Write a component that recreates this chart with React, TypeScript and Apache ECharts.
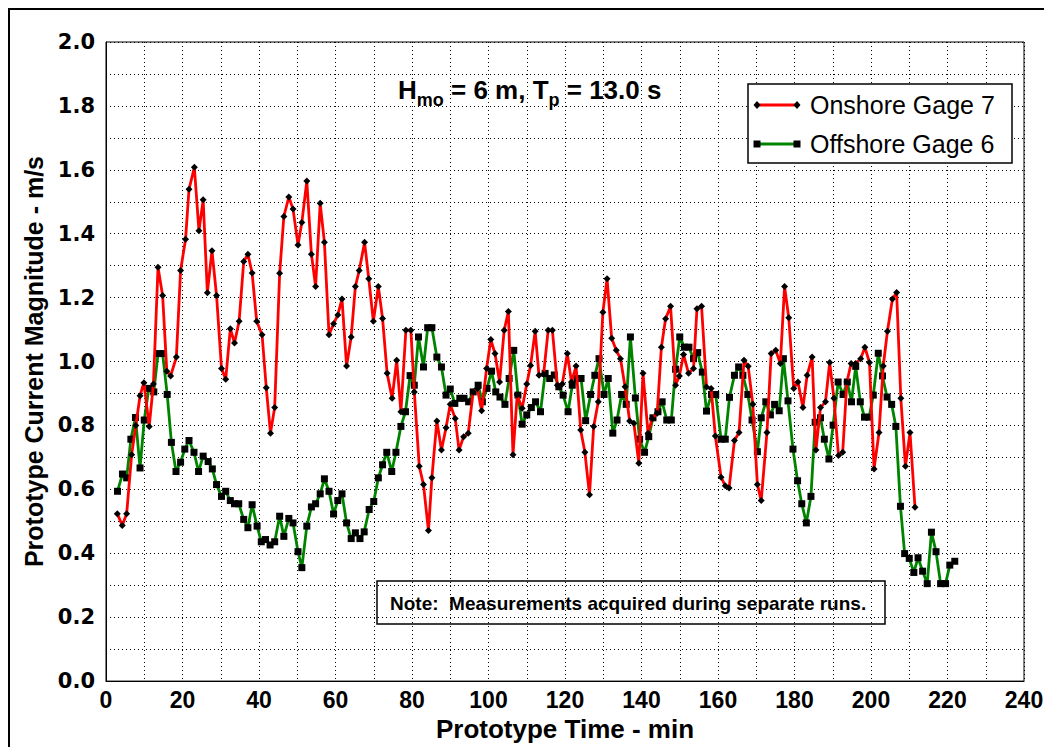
import React, { useEffect, useRef } from "react";
import * as echarts from "echarts";

// Onshore Gage 7 (red) - time (min) and current magnitude (m/s)
const onshoreTime = [
  2.95, 4.25, 5.4, 6.7, 7.8, 8.9, 9.9, 11.3, 12.4, 13.6, 14.8, 15.9, 16.9, 18.4, 19.5, 20.8, 21.7, 23.1, 24.3, 25.4,
  26.5, 27.7, 28.9, 30.2, 31.3, 32.5, 33.6, 34.8, 36.0, 37.1, 38.2, 39.4, 40.8, 41.9, 43.0, 44.1, 45.4, 46.5, 47.8, 48.9,
  50.2, 51.2, 52.5, 53.7, 54.8, 56.0, 57.1, 58.3, 59.5, 60.6, 61.7, 62.9, 64.1, 65.2, 66.2, 67.6, 68.7, 69.9, 71.2, 72.3,
  73.5, 74.8, 76.0, 77.1, 78.4, 79.7, 80.6, 81.9, 83.0, 84.3, 85.2, 86.5, 87.7, 88.9, 90.0, 91.3, 92.3, 93.5, 94.7, 96.0,
  97.1, 98.2, 99.5, 100.6, 101.7, 102.9, 104.1, 105.2, 106.4, 107.5, 108.8, 110.0, 111.0, 112.2, 113.2, 114.4, 115.6, 116.7, 118.0, 119.3,
  120.6, 121.7, 122.9, 124.1, 125.2, 126.4, 127.5, 128.7, 129.9, 131.0, 132.2, 133.4, 134.5, 135.7, 136.9, 138.0, 139.3, 140.4, 141.7, 142.8,
  144.1, 145.2, 146.3, 147.6, 148.9, 149.9, 151.0, 152.3, 153.6, 154.5, 155.7, 157.0, 158.2, 159.3, 160.8, 161.9, 162.9, 164.3, 165.5, 166.8,
  167.9, 169.1, 170.3, 171.3, 172.8, 173.9, 175.1, 176.3, 177.4, 178.5, 179.8, 180.9, 182.2, 183.3, 184.6, 185.6, 186.8, 188.1, 189.2, 190.3,
  191.5, 192.6, 193.7, 194.8, 196.0, 197.3, 198.4, 199.6, 200.8, 202.1, 203.2, 204.3, 205.6, 206.7, 207.8, 209.0, 210.2, 211.5,
];
const onshoreValue = [
  0.524, 0.487, 0.524, 0.708, 0.8, 0.893, 0.934, 0.797, 0.93, 1.295, 1.207, 0.97, 0.955, 1.014, 1.285, 1.383, 1.539, 1.608, 1.409, 1.506,
  1.215, 1.347, 1.207, 0.978, 0.945, 1.103, 1.058, 1.126, 1.313, 1.336, 1.277, 1.126, 1.084, 0.918, 0.776, 0.856, 1.276, 1.454, 1.515, 1.477,
  1.365, 1.435, 1.565, 1.336, 1.235, 1.495, 1.373, 1.084, 1.118, 1.146, 1.196, 0.986, 1.077, 1.235, 1.285, 1.373, 1.259, 1.126, 1.235, 1.135,
  0.963, 0.885, 1.004, 0.843, 1.098, 1.098, 0.905, 0.672, 0.615, 0.471, 0.636, 0.814, 0.723, 0.793, 0.866, 0.822, 0.723, 0.765, 0.776, 0.905,
  0.916, 0.846, 0.978, 1.069, 1.025, 0.936, 1.098, 1.157, 0.708, 0.895, 0.854, 0.93, 0.988, 1.095, 0.957, 0.96, 1.098, 1.098, 0.926, 0.93,
  1.025, 0.936, 0.986, 0.786, 0.716, 0.583, 0.797, 0.874, 1.154, 1.259, 1.073, 1.035, 1.009, 0.921, 0.814, 0.807, 0.682, 0.963, 0.776, 0.822,
  0.838, 1.045, 1.134, 1.173, 0.926, 0.955, 1.022, 0.963, 0.978, 1.165, 1.173, 0.92, 0.916, 0.767, 0.638, 0.611, 0.604, 0.753, 0.778, 1.004,
  0.985, 0.866, 0.615, 0.565, 0.778, 1.025, 1.035, 0.994, 1.235, 1.137, 0.916, 0.936, 0.856, 0.957, 1.014, 0.723, 0.856, 0.874, 0.997, 0.885,
  0.706, 0.716, 0.936, 0.994, 0.994, 1.009, 1.045, 0.997, 0.664, 0.778, 0.986, 1.095, 1.196, 1.216, 0.885, 0.672, 0.778, 0.544,
];

// Offshore Gage 6 (green)
const offshoreTime = [
  3.0, 4.3, 5.4, 6.5, 7.7, 8.9, 10.0, 11.2, 12.5, 13.6, 14.8, 16.0, 17.1, 18.3, 19.5, 20.6, 21.7, 23.0, 24.2, 25.4,
  26.7, 27.8, 28.9, 30.2, 31.3, 32.5, 33.6, 34.7, 36.0, 37.1, 38.2, 39.5, 40.6, 41.7, 42.9, 44.1, 45.4, 46.5, 47.8, 48.9,
  50.2, 51.2, 52.5, 53.7, 54.8, 56.0, 57.1, 58.3, 59.5, 60.6, 61.7, 62.9, 64.1, 65.2, 66.4, 67.5, 68.8, 70.0, 71.2, 72.3,
  73.4, 74.7, 75.8, 77.1, 78.3, 79.5, 80.6, 81.7, 83.0, 84.1, 85.2, 86.5, 87.7, 88.9, 90.0, 91.2, 92.5, 93.6, 94.8, 96.0,
  97.3, 98.4, 99.6, 100.8, 101.9, 103.0, 104.3, 105.4, 106.6, 107.7, 108.8, 110.0, 111.2, 112.3, 113.6, 114.8, 116.0, 117.2, 118.4, 119.5,
  120.8, 121.9, 123.2, 124.2, 125.4, 126.7, 127.8, 128.9, 130.2, 131.3, 132.5, 133.6, 134.8, 136.0, 137.1, 138.4, 139.5, 140.8, 141.9, 143.0,
  144.3, 145.4, 146.6, 147.8, 148.9, 150.0, 151.2, 152.4, 153.6, 154.7, 155.9, 157.0, 158.3, 159.4, 160.8, 161.9, 163.0, 164.3, 165.4, 166.5,
  167.8, 168.9, 170.3, 171.3, 172.5, 173.7, 174.8, 176.0, 177.1, 178.3, 179.6, 180.8, 181.9, 183.1, 184.3, 185.4, 186.8, 187.8, 189.0, 190.1,
  191.4, 192.7, 193.8, 194.9, 196.0, 197.2, 198.3, 199.5, 200.6, 201.9, 203.0, 204.2, 205.4, 206.5, 207.7, 208.8, 210.0, 211.2, 212.3, 213.5,
  214.7, 215.8, 217.0, 218.2, 219.5, 220.6, 221.9,
];
const offshoreValue = [
  0.594, 0.648, 0.636, 0.757, 0.825, 0.667, 0.817, 0.916, 0.905, 1.025, 1.025, 0.897, 0.747, 0.656, 0.685, 0.726, 0.753, 0.716, 0.656, 0.704,
  0.687, 0.664, 0.615, 0.578, 0.594, 0.565, 0.555, 0.555, 0.506, 0.48, 0.552, 0.485, 0.436, 0.443, 0.426, 0.436, 0.516, 0.453, 0.509, 0.495,
  0.405, 0.355, 0.485, 0.545, 0.555, 0.586, 0.633, 0.594, 0.523, 0.565, 0.586, 0.495, 0.446, 0.464, 0.446, 0.467, 0.537, 0.562, 0.636, 0.677,
  0.716, 0.656, 0.716, 0.797, 0.843, 0.956, 0.926, 1.077, 0.983, 1.106, 1.106, 1.014, 0.983, 0.895, 0.914, 0.869, 0.885, 0.885, 0.874, 0.905,
  0.926, 0.874, 0.916, 0.97, 0.905, 0.889, 0.866, 0.947, 1.035, 0.895, 0.804, 0.833, 0.856, 0.874, 0.843, 0.963, 0.947, 0.958, 0.921, 0.895,
  0.843, 0.926, 0.947, 0.947, 0.815, 0.897, 0.957, 1.009, 0.897, 0.947, 0.776, 0.817, 0.897, 0.866, 1.077, 0.886, 0.757, 0.716, 0.765, 0.824,
  0.843, 0.874, 0.817, 0.817, 0.976, 1.077, 1.045, 1.045, 1.009, 1.028, 0.967, 0.845, 0.897, 0.897, 0.757, 0.757, 0.888, 0.957, 0.983, 0.957,
  0.897, 0.817, 0.718, 0.824, 0.874, 0.833, 0.866, 0.846, 1.009, 0.877, 0.726, 0.627, 0.555, 0.495, 0.578, 0.81, 0.824, 0.757, 0.695, 0.801,
  0.936, 0.897, 0.936, 0.874, 0.985, 0.874, 0.826, 0.826, 0.895, 1.026, 0.955, 0.889, 0.866, 0.797, 0.547, 0.399, 0.384, 0.34, 0.386, 0.344,
  0.305, 0.466, 0.405, 0.305, 0.305, 0.363, 0.375,
];

const seriesNames = ["Onshore Gage 7", "Offshore Gage 6"];
const xAxisTitle = "Prototype Time - min";
const yAxisTitle = "Prototype Current Magnitude - m/s";
const noteText = "Note:  Measurements acquired during separate runs.";

const pairs = (t: number[], v: number[]) => t.map((x, i) => [x, v[i]]);

export default function App() {
  const ref = useRef<HTMLDivElement>(null);
  useEffect(() => {
    if (!ref.current) return;
    const chart = echarts.init(ref.current, null, { renderer: "svg" });
    const dotted = { color: "#000", width: 1, type: [1, 3] as number[] };
    const narrow = "'Liberation Sans Narrow', 'Liberation Sans', Arial, sans-serif";
    const sans = "'Liberation Sans', Arial, sans-serif";
    chart.setOption({
      animation: false,
      backgroundColor: "#fff",
      grid: {
        left: 98,
        top: 34,
        right: 28,
        bottom: 63,
        show: true,
        borderColor: "#000",
        borderWidth: 1,
        containLabel: false,
      },
      xAxis: {
        type: "value",
        min: 0,
        max: 240,
        interval: 10,
        name: xAxisTitle,
        nameLocation: "middle",
        nameGap: 30,
        nameTextStyle: { fontFamily: narrow, fontWeight: "bold", fontSize: 26, color: "#000" },
        axisLine: { show: true, lineStyle: { color: "#000", width: 1 } },
        axisTick: { show: false },
        axisLabel: {
          margin: 7,
          color: "#000",
          fontFamily: narrow,
          fontWeight: "bold",
          fontSize: 23,
          formatter: (v: number) => (Math.round(v) % 20 === 0 ? String(Math.round(v)) : ""),
        },
        splitLine: { show: true, lineStyle: dotted },
      },
      yAxis: {
        type: "value",
        min: 0,
        max: 2,
        interval: 0.1,
        name: yAxisTitle,
        nameLocation: "middle",
        nameGap: 58,
        nameTextStyle: { fontFamily: narrow, fontWeight: "bold", fontSize: 25, color: "#000" },
        axisLine: { show: true, lineStyle: { color: "#000", width: 1 } },
        axisTick: { show: false },
        axisLabel: {
          margin: 11,
          color: "#000",
          fontFamily: "'DejaVu Sans', sans-serif",
          fontWeight: "bold",
          fontSize: 21,
          formatter: (v: number) => (Math.round(v * 10) % 2 === 0 ? v.toFixed(1) : ""),
        },
        splitLine: { show: true, lineStyle: dotted },
      },
      series: [
        {
          name: seriesNames[1],
          type: "line",
          data: pairs(offshoreTime, offshoreValue),
          symbol: "rect",
          symbolSize: 7,
          showSymbol: true,
          itemStyle: { color: "#000" },
          lineStyle: { color: "#008400", width: 2.8 },
          z: 2,
        },
        {
          name: seriesNames[0],
          type: "line",
          data: pairs(onshoreTime, onshoreValue),
          symbol: "diamond",
          symbolSize: 7,
          showSymbol: true,
          itemStyle: { color: "#000" },
          lineStyle: { color: "#ff0000", width: 2.8 },
          z: 3,
        },
      ],
      graphic: [
        {
          type: "rect",
          shape: { x: 1, y: 1, width: 1100, height: 900 },
          style: { fill: "none", stroke: "#000", lineWidth: 2 },
          silent: true,
          z: 100,
        },
        {
          type: "text",
          x: 390,
          y: 84,
          style: {
            text: "{m|H}{s|mo}{m| = 6 m, T}{s|p}{m| = 13.0 s}",
            verticalAlign: "middle",
            rich: {
              m: { fontFamily: sans, fontWeight: "bold", fontSize: 26, fill: "#000", lineHeight: 30, verticalAlign: "top" },
              s: { fontFamily: sans, fontWeight: "bold", fontSize: 18, fill: "#000", padding: [15, 0, 0, 0], lineHeight: 30 },
            },
          },
          z: 50,
        },
        {
          type: "rect",
          shape: { x: 740, y: 76, width: 264, height: 79 },
          style: { fill: "#fff", stroke: "#000", lineWidth: 1.5 },
          z: 50,
        },
        {
          type: "line",
          shape: { x1: 749, y1: 97, x2: 789, y2: 97 },
          style: { stroke: "#ff0000", lineWidth: 2.8 },
          z: 51,
        },
        {
          type: "polygon",
          shape: { points: [[749, 93], [752.5, 97], [749, 101], [745.5, 97]] },
          style: { fill: "#000" },
          z: 52,
        },
        {
          type: "polygon",
          shape: { points: [[789, 93], [792.5, 97], [789, 101], [785.5, 97]] },
          style: { fill: "#000" },
          z: 52,
        },
        {
          type: "text",
          x: 802,
          y: 97,
          style: { text: seriesNames[0], fontFamily: sans, fontSize: 25, fill: "#000", verticalAlign: "middle" },
          z: 52,
        },
        {
          type: "line",
          shape: { x1: 749, y1: 136, x2: 789, y2: 136 },
          style: { stroke: "#008400", lineWidth: 2.8 },
          z: 51,
        },
        {
          type: "rect",
          shape: { x: 745.5, y: 132.5, width: 7, height: 7 },
          style: { fill: "#000" },
          z: 52,
        },
        {
          type: "rect",
          shape: { x: 785.5, y: 132.5, width: 7, height: 7 },
          style: { fill: "#000" },
          z: 52,
        },
        {
          type: "text",
          x: 802,
          y: 136,
          style: { text: seriesNames[1], fontFamily: sans, fontSize: 25, fill: "#000", verticalAlign: "middle" },
          z: 52,
        },
        {
          type: "rect",
          shape: { x: 369, y: 573, width: 508, height: 43 },
          style: { fill: "none", stroke: "#000", lineWidth: 1.5 },
          z: 50,
        },
        {
          type: "text",
          x: 382,
          y: 595,
          style: { text: noteText, fontFamily: sans, fontWeight: "bold", fontSize: 19, fill: "#000", verticalAlign: "middle" },
          z: 51,
        },
      ],
    });
    return () => chart.dispose();
  }, []);
  return <div ref={ref} style={{ width: 1044, height: 739 }} />;
}
